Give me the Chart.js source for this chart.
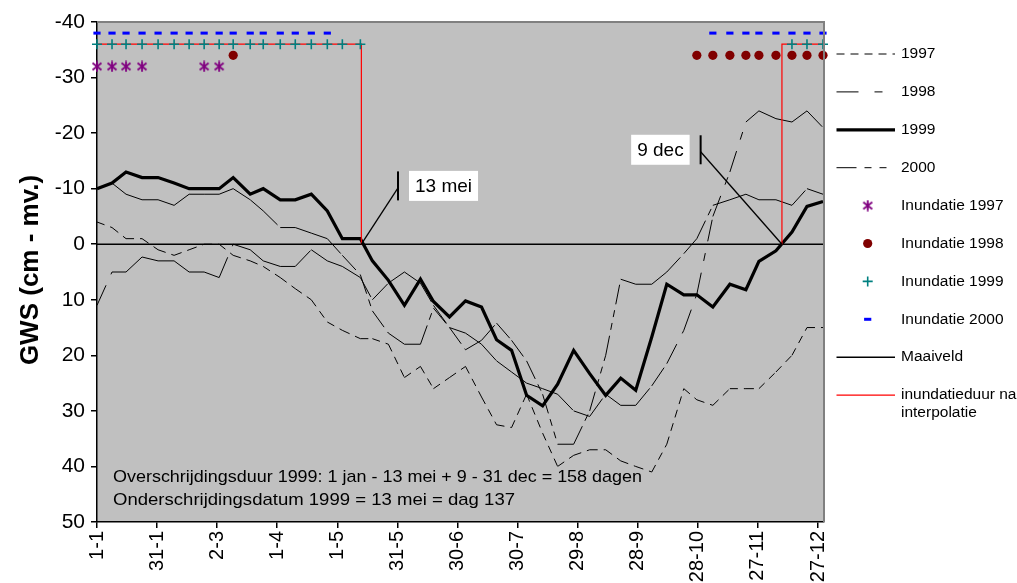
<!DOCTYPE html>
<html><head><meta charset="utf-8">
<script src="https://cdn.jsdelivr.net/npm/chart.js@4/dist/chart.umd.min.js"></script>
<style>html,body{margin:0;padding:0;background:#fff;}canvas{display:block;}</style>
</head><body>
<canvas id="c" width="1017" height="583"></canvas>
<script>
// ---- data ----
const days = [1,8.5,15.5,23.5,31.5,39.5,47,54.5,62,69,77.5,84,92.5,100,108,116,123.5,132.5,138.5,146.5,154.5,162.5,169,177,185,193,200.5,208,215.5,223.5,231,239,247,255,262.5,270,278,285.5,294,300.5,308.5,317,325,331.5,340,348,355.5,363.5];
const gws1997 = [-4,-3,-1,-1,1,2,1,0,0,2,3,4,6,8,10,14,15.5,17,17,18,24,22,26,24,22,27.5,32.5,33,27,34,40,38,37,37,39,40,41,36,26,28,29,26,26,26,23,20,15,15];
const gws1998 = [11,5,5,2.3,3,3,5,5,6,0,1,3,4,4,1,3,4,6,10,7,5,7,11,15,16,18,21,23,25,26,27,30,31,27,29,29,25.5,21.5,15.5,9,-5,-13,-22,-24,-22.6,-22,-24,-21];
const gws1999 = [-10,-11,-13,-12,-12,-11,-10,-10,-10,-12,-9,-10,-8,-8,-9,-6,-1,-1,3,6.5,11,6.3,10.3,13.1,10.2,11.3,17.2,19.1,27.2,29.1,25.2,19.1,23.3,27.2,24.1,26.3,16.7,7.2,9.1,9.1,11.3,7.2,8.2,3.1,1.2,-2.2,-6.8,-7.7];
const gws2000 = [-10,-11,-9,-8,-8,-7,-9,-9,-9,-10,-8,-6,-3,-3,-2,-1,2,5.5,12,16,18,18,11.5,15,19,17.3,14.2,17.3,21,27,36,36,30,20,6.3,7.2,7.2,5,1.7,-1,-7,-8,-9,-8,-8,-7,-10,-9];
// inundation markers: indices into days, and plotted level
const inund1997Idx = [0,1,2,3,7,8];            const inund1997Level = -32;
const inund1998Idx = [9,39,40,41,42,43,44,45,46,47]; const inund1998Level = -34;
const inund1999Idx = [0,1,2,3,4,5,6,7,8,9,10,11,12,13,14,15,16,17,45,46,47]; const inund1999Level = -36;
const inund2000Idx = [0,1,2,3,4,5,6,7,8,9,10,11,12,13,14,15,40,41,42,43,44,45,46,47]; const inund2000Level = -38;
// maaiveld and interpolated inundation period
const maaiveldDays = [1,364];       const maaiveldVals = [0,0];
const interpDays = [1,133,133,200,343,343,364];
const interpVals = [-36,-36,0,null,0,-36,-36];
// axis ticks
const xTickDays = [1,31,61,91,121,151,181,211,241,271,301,331,361];
const xTickLabels = ['1-1','31-1','2-3','1-4','1-5','31-5','30-6','30-7','29-8','28-9','28-10','27-11','27-12'];
const yMin = -40, yMax = 50, yStep = 10;
// texts
const yTitle = 'GWS (cm - mv.)';
const notes = ['Overschrijdingsduur 1999: 1 jan - 13 mei + 9 - 31 dec = 158 dagen','Onderschrijdingsdatum 1999 = 13 mei = dag 137'];
const callouts = [
  {text:'13 mei', day:133, barDay:151.3, barVal:-10.5, side:'right'},
  {text:'9 dec',  day:343, barDay:302.4, barVal:-17.0, side:'left'}
];

// ---- helpers ----
const FONT = "'Liberation Sans', Arial, Helvetica, sans-serif";
Chart.defaults.font.family = FONT;
Chart.defaults.color = '#000';
const pts = vals => days.map((d,i) => ({x:d, y:vals[i]}));
const markerPts = (idx, lvl) => idx.map(i => ({x:days[i], y:lvl}));
const altOffset = c => (c.p0DataIndex % 2) * 0.01; // restart dash pattern at each segment (Excel-like)

function asteriskCanvas(color){
  const s = 12, c = document.createElement('canvas'); c.width = s; c.height = s;
  const g = c.getContext('2d'); g.strokeStyle = color; g.lineWidth = 1.8;
  g.beginPath();
  g.moveTo(6,0.5); g.lineTo(6,11.5);
  g.moveTo(1.5,2.5); g.lineTo(10.5,9.5);
  g.moveTo(10.5,2.5); g.lineTo(1.5,9.5);
  g.stroke();
  return c;
}
const asterisk = asteriskCanvas('#800080');

const lineBase = {pointRadius:0, fill:false, tension:0, borderColor:'#000', order:3, spanGaps:false};
const datasets = [
  Object.assign({label:'1997', data:pts(gws1997), borderWidth:1, borderDash:[8,6], segment:{borderDashOffset:altOffset}, legendKind:'line'}, lineBase),
  Object.assign({label:'1998', data:pts(gws1998), borderWidth:1, borderDash:[22,12,8,12], segment:{borderDashOffset:altOffset}, legendKind:'line', legendDash:[22,16,8,30]}, lineBase),
  Object.assign({label:'1999', data:pts(gws1999), borderWidth:3.2, legendKind:'line'}, lineBase),
  Object.assign({label:'2000', data:pts(gws2000), borderWidth:1, borderDash:[20,6,7,6,7,6], segment:{borderDashOffset:altOffset}, legendKind:'line', legendDash:[20,8,7,8,7,30]}, lineBase),
  {label:'Inundatie 1997', data:markerPts(inund1997Idx, inund1997Level), showLine:false, pointStyle:asterisk, pointRadius:6, borderColor:'#800080', backgroundColor:'#800080', clip:false, order:0, legendKind:'marker'},
  {label:'Inundatie 1998', data:markerPts(inund1998Idx, inund1998Level), showLine:false, pointStyle:'circle', pointRadius:4.6, pointBorderWidth:0, borderColor:'#800000', backgroundColor:'#800000', clip:false, order:0, legendKind:'marker'},
  {label:'Inundatie 1999', data:markerPts(inund1999Idx, inund1999Level), showLine:false, pointStyle:'cross', pointRadius:5, pointBorderWidth:1.6, borderColor:'#008080', backgroundColor:'#008080', clip:false, order:0, legendKind:'marker'},
  {label:'Inundatie 2000', data:markerPts(inund2000Idx, inund2000Level), showLine:false, pointStyle:'line', pointRadius:3.6, pointBorderWidth:3, borderColor:'#0000FF', backgroundColor:'#0000FF', clip:false, order:0, legendKind:'marker'},
  {label:'Maaiveld', data:maaiveldDays.map((d,i)=>({x:d,y:maaiveldVals[i]})), borderColor:'#000', borderWidth:1.6, pointRadius:0, order:2, legendKind:'line', legendWidth:1.4},
  {label:['inundatieduur na','interpolatie'], data:interpDays.map((d,i)=>({x:d,y:interpVals[i]})), borderColor:'#FF0000', borderWidth:1.2, pointRadius:0, spanGaps:false, order:1, legendKind:'line'}
];

const plotPlugin = {
  id:'plotDeco',
  beforeDraw(chart){
    const {ctx, chartArea:a} = chart;
    ctx.save();
    ctx.fillStyle = '#fff'; ctx.fillRect(0,0,chart.width,chart.height);
    ctx.fillStyle = '#C0C0C0'; ctx.fillRect(a.left,a.top,a.right-a.left,a.bottom-a.top);
    ctx.restore();
  },
  afterDatasetsDraw(chart){
    const {ctx, chartArea:a, scales} = chart;
    const xs = scales.x, ys = scales.y;
    ctx.save();
    // grey frame top/right
    ctx.strokeStyle = '#808080'; ctx.lineWidth = 2; ctx.setLineDash([]);
    ctx.beginPath(); ctx.moveTo(a.left, a.top); ctx.lineTo(a.right, a.top); ctx.lineTo(a.right, a.bottom); ctx.stroke();
    // callouts
    for (const c of callouts){
      const ax = xs.getPixelForValue(c.day), ay = ys.getPixelForValue(0);
      const bx = xs.getPixelForValue(c.barDay), by = ys.getPixelForValue(c.barVal);
      ctx.strokeStyle = '#000'; ctx.lineWidth = 1.3;
      ctx.beginPath(); ctx.moveTo(ax, ay); ctx.lineTo(bx, by+2); ctx.stroke();
      ctx.lineWidth = 2;
      ctx.beginPath(); ctx.moveTo(bx, by-14.5); ctx.lineTo(bx, by+14.5); ctx.stroke();
      ctx.font = '19px ' + FONT;
      const w = ctx.measureText(c.text).width + 12, h = 30;
      const left = c.side === 'right' ? bx + 11 : bx - 11 - w;
      ctx.fillStyle = '#fff'; ctx.fillRect(left, by - h/2, w, h);
      ctx.fillStyle = '#000'; ctx.textAlign = 'center'; ctx.textBaseline = 'middle';
      ctx.fillText(c.text, left + w/2, by + 1);
    }
    // notes
    ctx.font = '17px ' + FONT; ctx.textAlign = 'left'; ctx.textBaseline = 'middle'; ctx.fillStyle = '#000';
    const noteY = [477, 500], noteW = [529, 402];
    notes.forEach((t,i) => {
      const mw = ctx.measureText(t).width;
      ctx.save(); ctx.translate(113, noteY[i]); ctx.scale(noteW[i]/mw, 1); ctx.fillText(t, 0, 0); ctx.restore();
    });
    ctx.restore();
  },
  afterDraw(chart){
    const {ctx} = chart;
    ctx.save();
    // y title
    ctx.translate(31, 270); ctx.rotate(-Math.PI/2);
    ctx.font = 'bold 26px ' + FONT; ctx.textAlign = 'center'; ctx.textBaseline = 'middle'; ctx.fillStyle = '#000';
    ctx.fillText(yTitle, 0, 0);
    ctx.restore();
    // legend
    ctx.save();
    const x0 = 836.5, x1 = 895, mx = 867.7, tx = 901, rowH = 37.9, y0 = 54;
    chart.data.datasets.forEach((ds, k) => {
      const y = y0 + k*rowH;
      if (ds.legendKind === 'line'){
        ctx.strokeStyle = ds.borderColor; ctx.lineWidth = ds.legendWidth || ds.borderWidth;
        ctx.setLineDash(ds.legendDash || ds.borderDash || []);
        ctx.beginPath(); ctx.moveTo(x0, y); ctx.lineTo(x1, y); ctx.stroke();
        ctx.setLineDash([]);
      } else {
        ctx.strokeStyle = ds.borderColor; ctx.fillStyle = ds.backgroundColor; ctx.lineWidth = ds.pointBorderWidth || 1;
        Chart.helpers.drawPoint(ctx, {pointStyle:ds.pointStyle, rotation:0, radius:ds.pointRadius, borderWidth:ds.pointBorderWidth || 0}, mx, y);
      }
      ctx.fillStyle = '#000'; ctx.font = '15.5px ' + FONT; ctx.textAlign = 'left'; ctx.textBaseline = 'middle';
      const lines = Array.isArray(ds.label) ? ds.label : [ds.label];
      lines.forEach((t, j) => ctx.fillText(t, tx, y + j*18));
    });
    ctx.restore();
  }
};

new Chart(document.getElementById('c'), {
  type:'line',
  data:{datasets},
  options:{
    responsive:false, animation:false, devicePixelRatio:1, events:[],
    layout:{padding:{left:0, top:22, right:193, bottom:0}},
    plugins:{legend:{display:false}, tooltip:{enabled:false}},
    scales:{
      x:{type:'linear', min:1, max:364,
        afterBuildTicks: s => { s.ticks = xTickDays.map(v => ({value:v})); },
        afterFit: s => { s.height = 61; },
        ticks:{autoSkip:false, minRotation:90, maxRotation:90, padding:3, font:{size:20}, color:'#000',
          callback: v => { const i = xTickDays.indexOf(v); return i >= 0 ? xTickLabels[i] : ''; }},
        grid:{display:true, drawOnChartArea:false, drawTicks:true, tickLength:6, color:'#000', lineWidth:1.5},
        border:{display:true, color:'#000', width:1.5}
      },
      y:{type:'linear', reverse:true, min:yMin, max:yMax,
        afterFit: s => { s.width = 97; },
        ticks:{stepSize:yStep, padding:6, font:{size:21}, color:'#000'},
        grid:{display:true, drawOnChartArea:false, drawTicks:true, tickLength:6, color:'#000', lineWidth:1.5},
        border:{display:true, color:'#000', width:1.5}
      }
    }
  },
  plugins:[plotPlugin]
});
</script>
</body></html>
